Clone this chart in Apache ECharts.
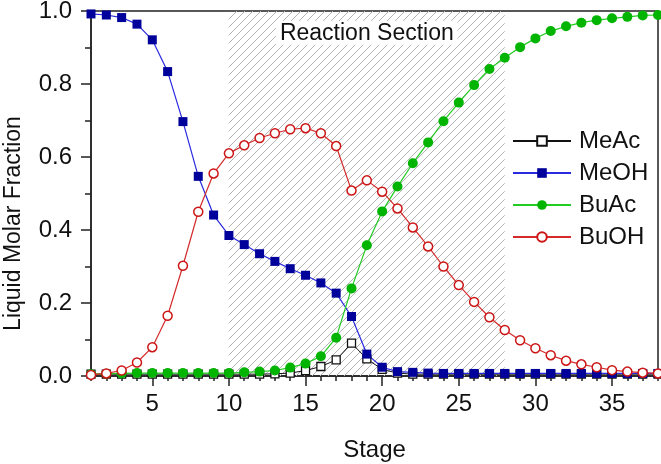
<!DOCTYPE html>
<html>
<head>
<meta charset="utf-8">
<script src="https://cdn.jsdelivr.net/npm/echarts@6/dist/echarts.min.js"></script>
<style>
  html, body { margin: 0; padding: 0; background: #fff; }
  #chart { width: 661px; height: 464px; }
</style>
</head>
<body>
<div id="chart"></div>
<script>
const stages = [1, 2, 3, 4, 5, 6, 7, 8, 9, 10, 11, 12, 13, 14, 15, 16, 17, 18, 19, 20,
  21, 22, 23, 24, 25, 26, 27, 28, 29, 30, 31, 32, 33, 34, 35, 36, 37, 38]

const meAc = [0.005, 0.005, 0.005, 0.005, 0.005, 0.005, 0.005, 0.005, 0.005, 0.005, 0.005, 0.005,
  0.006, 0.008, 0.015, 0.026, 0.044, 0.090, 0.047, 0.018, 0.008, 0.005, 0.005, 0.005, 0.005,
  0.005, 0.005, 0.005, 0.005, 0.005, 0.005, 0.005, 0.005, 0.005, 0.005, 0.005, 0.005, 0.005]

const meOH = [0.992, 0.989, 0.982, 0.964, 0.921, 0.834, 0.697, 0.547, 0.441, 0.385, 0.360, 0.335,
  0.314, 0.294, 0.276, 0.255, 0.227, 0.163, 0.060, 0.024, 0.012, 0.010, 0.008, 0.007, 0.007,
  0.007, 0.007, 0.007, 0.007, 0.007, 0.007, 0.007, 0.007, 0.007, 0.007, 0.007, 0.007, 0.007]

const buAc = [0.005, 0.006, 0.007, 0.008, 0.008, 0.008, 0.008, 0.008, 0.008, 0.008, 0.010, 0.012,
  0.015, 0.023, 0.034, 0.054, 0.105, 0.240, 0.358, 0.451, 0.519, 0.583, 0.640, 0.698, 0.749,
  0.797, 0.841, 0.872, 0.901, 0.925, 0.945, 0.958, 0.968, 0.975, 0.980, 0.984, 0.988, 0.989]

const buOH = [0.003, 0.007, 0.015, 0.037, 0.079, 0.165, 0.302, 0.450, 0.555, 0.610, 0.632, 0.652,
  0.665, 0.676, 0.679, 0.665, 0.630, 0.508, 0.536, 0.505, 0.459, 0.407, 0.355, 0.300, 0.249,
  0.203, 0.161, 0.126, 0.098, 0.076, 0.057, 0.042, 0.032, 0.024, 0.016, 0.012, 0.009, 0.007]

const majorTicks = [5, 10, 15, 20, 25, 30, 35]
const reactionSection = [10, 28]

// diagonal hatch for the reaction section
const hatch = document.createElement('canvas')
hatch.width = 8
hatch.height = 8
const hc = hatch.getContext('2d')
hc.strokeStyle = '#b4b4b4'
hc.lineWidth = 1
hc.beginPath()
hc.moveTo(0, 8); hc.lineTo(8, 0)
hc.moveTo(-1, 1); hc.lineTo(1, -1)
hc.moveTo(7, 9); hc.lineTo(9, 7)
hc.stroke()

const font = 'Liberation Sans'
const pairs = (arr) => stages.map((s, i) => [s, arr[i]])

const myChart = echarts.init(document.getElementById('chart'))

const option = {
  animation: false,
  textStyle: { fontFamily: font },
  grid: {
    left: 91, right: 3, top: 11, bottom: 88,
    outerBoundsMode: 'none',
    containLabel: false,
    show: true, borderColor: '#222', borderWidth: 1.5,
  },
  legend: {
    data: ['MeAc', 'MeOH', 'BuAc', 'BuOH'],
    orient: 'vertical',
    left: 507,
    top: 124,
    itemWidth: 58,
    itemHeight: 12,
    itemGap: 8,
    textStyle: { fontSize: 24, lineHeight: 24, color: '#111', fontFamily: font, padding: [0, 0, 0, 3] },
  },
  xAxis: [
    {
      type: 'value', min: 1, max: 38,
      name: 'Stage', nameLocation: 'middle', nameGap: 62,
      nameTextStyle: { fontSize: 24, color: '#111', fontFamily: font },
      axisLine: { lineStyle: { color: '#222', width: 1.5 } },
      axisTick: { customValues: majorTicks, length: 10, lineStyle: { color: '#222', width: 1.5 } },
      axisLabel: { customValues: majorTicks, fontSize: 24, color: '#111', margin: 16, fontFamily: font },
      splitLine: { show: false },
    },
    {
      type: 'value', min: 1, max: 38, position: 'bottom',
      axisLine: { show: false },
      axisTick: { customValues: stages, length: 5, lineStyle: { color: '#222', width: 1.5 } },
      axisLabel: { show: false },
      splitLine: { show: false },
    },
  ],
  yAxis: {
    type: 'value', min: 0, max: 1, interval: 0.2,
    name: 'Liquid Molar Fraction', nameLocation: 'middle', nameGap: 66,
    nameTextStyle: { fontSize: 23, color: '#111', fontFamily: font, padding: [0, 60, 0, 0] },
    axisLine: { show: true, lineStyle: { color: '#222', width: 1.5 } },
    axisTick: { show: true, length: 10, lineStyle: { color: '#222', width: 1.5 } },
    minorTick: { show: true, splitNumber: 2, length: 6, lineStyle: { color: '#222', width: 1.5 } },
    axisLabel: { fontSize: 24, color: '#111', margin: 19, fontFamily: font, formatter: (v) => v.toFixed(1) },
    splitLine: { show: false },
  },
  series: [
    {
      name: 'hatch',
      type: 'line',
      data: [],
      silent: true,
      markArea: {
        silent: true,
        itemStyle: { color: { image: hatch, repeat: 'repeat' } },
        label: {
          show: true, position: 'insideTop', distance: 10,
          formatter: 'Reaction Section',
          fontSize: 23, color: '#111', fontFamily: font,
          backgroundColor: '#fff', padding: [1, 4, 0, 4],
        },
        data: [[{ xAxis: reactionSection[0], yAxis: 0 }, { xAxis: reactionSection[1], yAxis: 1 }]],
      },
    },
    {
      name: 'MeAc', type: 'line', clip: false,
      symbol: 'rect', symbolSize: 8,
      itemStyle: { color: '#fff', borderColor: '#111', borderWidth: 1.3 },
      lineStyle: { color: '#111', width: 1 },
      data: pairs(meAc),
    },
    {
      name: 'MeOH', type: 'line', clip: false,
      symbol: 'rect', symbolSize: 9,
      itemStyle: { color: '#00009a' },
      lineStyle: { color: '#2a2ae0', width: 1.2 },
      data: pairs(meOH),
    },
    {
      name: 'BuAc', type: 'line', clip: false,
      symbol: 'circle', symbolSize: 10,
      itemStyle: { color: '#00b400' },
      lineStyle: { color: '#22cc22', width: 1.2 },
      data: pairs(buAc),
    },
    {
      name: 'BuOH', type: 'line', clip: false,
      symbol: 'circle', symbolSize: 9,
      itemStyle: { color: '#fff', borderColor: '#cc1515', borderWidth: 1.5 },
      lineStyle: { color: '#d42a2a', width: 1.2 },
      data: pairs(buOH),
    },
  ],
}

myChart.setOption(option)

window.addEventListener('resize', () => {
  myChart.resize()
})
</script>
</body>
</html>
